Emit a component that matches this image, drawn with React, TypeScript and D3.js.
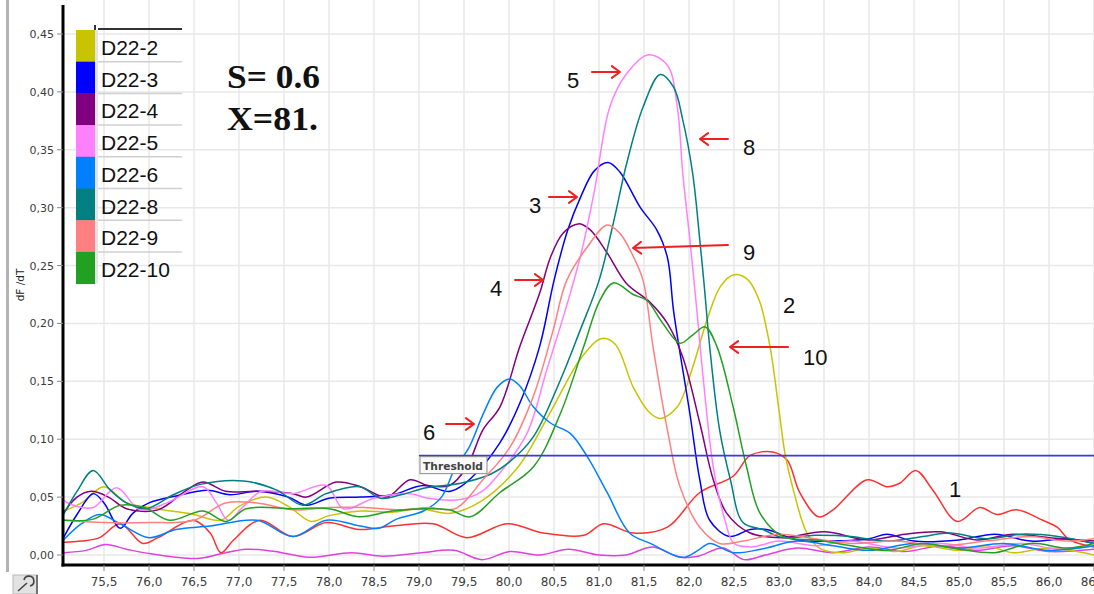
import React from "react";
import * as d3 from "d3";

type P = [number, number];

// ---------- axis ticks ----------
const X_TICKS = [75.5, 76, 76.5, 77, 77.5, 78, 78.5, 79, 79.5, 80, 80.5, 81, 81.5, 82, 82.5, 83, 83.5, 84, 84.5, 85, 85.5, 86, 86.5];
const Y_TICKS = [0, 0.05, 0.1, 0.15, 0.2, 0.25, 0.3, 0.35, 0.4, 0.45];

// ---------- series (temperature, dF/dT) ----------
const D22_2: P[] = [[75.05,0.038],[75.25,0.045],[75.5,0.059],[75.75,0.045],[76.0,0.041],[76.25,0.038],[76.5,0.035],[76.8,0.03],[77.0,0.042],[77.3,0.05],[77.55,0.042],[77.8,0.029],[78.0,0.034],[78.35,0.038],[78.7,0.037],[79.0,0.04],[79.35,0.036],[79.7,0.047],[80.1,0.076],[80.45,0.122],[80.8,0.17],[81.03,0.187],[81.18,0.182],[81.38,0.145],[81.55,0.124],[81.68,0.118],[81.87,0.128],[82.04,0.162],[82.2,0.203],[82.35,0.232],[82.5,0.242],[82.65,0.238],[82.78,0.22],[82.9,0.18],[83.0,0.125],[83.07,0.086],[83.16,0.056],[83.31,0.019],[83.45,0.006],[83.7,0.002],[84.0,0.006],[84.3,0.003],[84.6,0.008],[85.0,0.004],[85.3,0.008],[85.6,0.002],[86.0,0.006],[86.5,0.0]];
const D22_3: P[] = [[75.05,0.015],[75.2,0.035],[75.38,0.053],[75.5,0.045],[75.68,0.023],[75.82,0.036],[76.0,0.045],[76.3,0.051],[76.65,0.056],[76.9,0.052],[77.2,0.055],[77.55,0.05],[77.75,0.043],[78.0,0.049],[78.35,0.05],[78.7,0.052],[79.05,0.06],[79.35,0.055],[79.6,0.068],[79.9,0.097],[80.12,0.131],[80.34,0.18],[80.5,0.237],[80.65,0.28],[80.8,0.31],[80.95,0.332],[81.1,0.339],[81.23,0.331],[81.46,0.3],[81.64,0.281],[81.76,0.257],[81.83,0.21],[82.01,0.122],[82.12,0.065],[82.23,0.03],[82.45,0.016],[82.68,0.022],[82.86,0.022],[83.2,0.013],[83.5,0.012],[84.0,0.014],[84.2,0.018],[84.5,0.012],[85.0,0.013],[85.4,0.018],[85.8,0.012],[86.2,0.014],[86.5,0.01]];
const D22_4: P[] = [[75.05,0.036],[75.2,0.05],[75.36,0.055],[75.55,0.05],[75.75,0.04],[76.1,0.039],[76.4,0.055],[76.6,0.063],[76.85,0.055],[77.2,0.055],[77.6,0.053],[77.75,0.05],[78.08,0.063],[78.35,0.059],[78.64,0.05],[78.9,0.065],[79.1,0.06],[79.34,0.06],[79.53,0.076],[79.71,0.108],[79.9,0.128],[80.12,0.18],[80.34,0.226],[80.46,0.257],[80.6,0.278],[80.77,0.286],[80.9,0.281],[81.09,0.261],[81.3,0.235],[81.57,0.218],[81.76,0.2],[81.93,0.171],[82.12,0.114],[82.27,0.065],[82.42,0.036],[82.68,0.019],[83.04,0.015],[83.5,0.02],[84.0,0.013],[84.4,0.018],[84.8,0.02],[85.2,0.013],[85.6,0.018],[86.0,0.015],[86.5,0.012]];
const D22_5: P[] = [[75.05,0.047],[75.2,0.042],[75.38,0.041],[75.64,0.058],[75.9,0.039],[76.2,0.045],[76.6,0.059],[76.75,0.045],[76.88,0.03],[77.05,0.042],[77.25,0.055],[77.6,0.053],[77.97,0.06],[78.16,0.04],[78.5,0.049],[78.9,0.053],[79.1,0.049],[79.46,0.048],[79.7,0.055],[79.9,0.071],[80.2,0.105],[80.42,0.16],[80.62,0.21],[80.8,0.26],[80.95,0.315],[81.12,0.387],[81.3,0.415],[81.55,0.432],[81.76,0.423],[81.87,0.387],[81.93,0.33],[82.01,0.272],[82.09,0.209],[82.16,0.151],[82.27,0.076],[82.4,0.03],[82.5,0.01],[82.7,0.007],[83.0,0.012],[83.4,0.008],[83.8,0.012],[84.3,0.006],[84.8,0.01],[85.2,0.006],[85.7,0.01],[86.1,0.005],[86.5,0.008]];
const D22_6: P[] = [[75.05,0.013],[75.25,0.027],[75.45,0.035],[75.68,0.027],[76.0,0.015],[76.3,0.022],[76.68,0.025],[77.2,0.03],[77.6,0.016],[77.97,0.03],[78.35,0.025],[78.55,0.023],[78.75,0.031],[79.05,0.038],[79.25,0.05],[79.4,0.075],[79.55,0.092],[79.72,0.123],[79.87,0.145],[80.01,0.152],[80.12,0.146],[80.27,0.128],[80.46,0.114],[80.68,0.105],[80.87,0.085],[81.09,0.054],[81.34,0.019],[81.57,0.01],[81.93,-0.002],[82.1,0.004],[82.23,0.01],[82.49,0.002],[82.8,0.005],[83.2,0.012],[83.6,0.008],[84.0,0.004],[84.5,0.01],[85.0,0.006],[85.5,0.01],[86.0,0.004],[86.5,0.008]];
const D22_8: P[] = [[75.05,0.035],[75.2,0.055],[75.38,0.073],[75.57,0.056],[75.75,0.045],[75.97,0.04],[76.27,0.052],[76.57,0.061],[77.05,0.064],[77.42,0.056],[77.71,0.043],[77.97,0.053],[78.34,0.059],[78.57,0.049],[78.8,0.052],[79.08,0.058],[79.46,0.062],[79.8,0.07],[80.0,0.08],[80.27,0.102],[80.57,0.151],[80.79,0.194],[81.0,0.237],[81.16,0.287],[81.31,0.339],[81.49,0.387],[81.68,0.415],[81.83,0.404],[81.93,0.376],[82.04,0.33],[82.12,0.272],[82.17,0.232],[82.23,0.18],[82.34,0.108],[82.46,0.065],[82.6,0.028],[82.82,0.022],[83.04,0.015],[83.4,0.017],[83.8,0.016],[84.2,0.012],[84.6,0.016],[84.9,0.019],[85.3,0.014],[85.7,0.018],[86.1,0.016],[86.5,0.01]];
const D22_9: P[] = [[75.05,0.03],[75.5,0.028],[76.0,0.028],[76.5,0.03],[76.85,0.045],[77.2,0.045],[77.6,0.039],[78.0,0.041],[78.4,0.041],[78.8,0.039],[79.1,0.041],[79.4,0.04],[79.71,0.065],[80.01,0.093],[80.27,0.137],[80.49,0.194],[80.64,0.237],[80.87,0.266],[81.09,0.285],[81.23,0.278],[81.38,0.258],[81.49,0.237],[81.6,0.18],[81.76,0.108],[81.9,0.059],[82.12,0.024],[82.34,0.01],[82.6,0.012],[83.0,0.018],[83.4,0.014],[83.8,0.01],[84.3,0.012],[84.8,0.008],[85.3,0.012],[85.8,0.016],[86.2,0.012],[86.5,0.014]];
const D22_10: P[] = [[75.05,0.03],[75.38,0.031],[75.68,0.043],[75.95,0.041],[76.23,0.03],[76.6,0.038],[76.86,0.029],[77.08,0.04],[77.6,0.04],[78.0,0.04],[78.34,0.033],[78.7,0.038],[79.08,0.04],[79.34,0.039],[79.57,0.033],[79.9,0.054],[80.27,0.076],[80.57,0.122],[80.83,0.18],[81.01,0.22],[81.16,0.235],[81.38,0.225],[81.53,0.22],[81.71,0.2],[81.9,0.183],[82.04,0.19],[82.18,0.197],[82.31,0.18],[82.49,0.128],[82.64,0.076],[82.79,0.036],[83.04,0.016],[83.42,0.013],[83.8,0.008],[84.2,0.004],[84.6,0.01],[85.0,0.005],[85.4,0.002],[85.8,0.01],[86.2,0.006],[86.5,0.01]];
const SAMPLE_1: P[] = [[75.05,0.011],[75.25,0.012],[75.45,0.015],[75.68,0.027],[75.93,0.01],[76.1,0.015],[76.49,0.03],[76.68,0.019],[76.8,0.002],[76.94,0.013],[77.23,0.03],[77.6,0.016],[77.97,0.028],[78.34,0.022],[78.71,0.025],[79.16,0.027],[79.53,0.015],[79.98,0.027],[80.38,0.019],[80.83,0.017],[81.05,0.027],[81.38,0.019],[81.76,0.024],[82.12,0.054],[82.49,0.068],[82.68,0.086],[82.93,0.089],[83.09,0.082],[83.23,0.054],[83.44,0.033],[83.6,0.039],[83.98,0.065],[84.2,0.059],[84.34,0.062],[84.52,0.073],[84.71,0.056],[84.98,0.029],[85.23,0.041],[85.42,0.035],[85.64,0.039],[85.93,0.03],[86.09,0.024],[86.23,0.013],[86.5,0.007]];
const BLANK: P[] = [[75.05,0.002],[75.3,0.004],[75.52,0.009],[75.75,0.005],[76.02,0.001],[76.53,-0.003],[76.8,0.001],[77.08,0.005],[77.4,0.003],[77.78,-0.002],[78.25,0.002],[78.6,-0.001],[79.03,0.002],[79.39,0.004],[79.7,-0.004],[80.01,0.003],[80.34,0.0],[80.66,0.005],[81.0,0.0],[81.3,0.0],[81.6,0.007],[81.9,-0.002],[82.1,-0.001],[82.38,0.006],[82.61,-0.004],[82.85,0.0],[83.2,0.006],[83.6,0.002],[84.0,0.007],[84.4,0.003],[84.8,0.008],[85.2,0.004],[85.6,0.008],[86.0,0.003],[86.5,0.005]];

const LEGEND_NAMES = ["D22-2", "D22-3", "D22-4", "D22-5", "D22-6", "D22-8", "D22-9", "D22-10"];
const LEGEND_COLORS = ["#c8c400", "#0000ff", "#800080", "#ff80ff", "#0080ff", "#008080", "#ff8080", "#22a022"];
const LEGEND_DATA = [D22_2, D22_3, D22_4, D22_5, D22_6, D22_8, D22_9, D22_10];

const THRESHOLD = 0.0858;
const THRESHOLD_START = 79.0;

// annotations: label, text anchor (T, v), optional arrow from->to
const ANNOT_LABELS = ["5", "8", "3", "9", "4", "2", "10", "6", "1"];
const ANNOT_TEXT: P[] = [[80.644,0.4034],[82.6,0.3455],[80.222,0.2954],[82.6,0.2548],[79.789,0.2237],[83.044,0.209],[83.267,0.1641],[79.044,0.0993],[84.889,0.0501]];
const ANNOT_ARROWS: ([P, P] | null)[] = [
  [[80.922,0.4172],[81.233,0.4172]],
  [[82.433,0.3593],[82.122,0.3593]],
  [[80.444,0.3092],[80.756,0.3092]],
  [[82.433,0.2677],[81.378,0.2652]],
  [[80.067,0.2375],[80.378,0.2375]],
  null,
  [[83.1,0.1797],[82.456,0.1797]],
  [[79.3,0.1131],[79.611,0.1131]],
  null,
];

const W = 1094;
const H = 594;
const PLOT_L = 63;
const PLOT_T = 5;
const PLOT_B = 565;

export default function App() {
  const x = d3.scaleLinear().domain([75.5, 86]).range([104, 1049]);
  const y = d3.scaleLinear().domain([0, 0.45]).range([555, 34]);
  const line = d3
    .line<P>()
    .x((d) => x(d[0]))
    .y((d) => y(d[1]))
    .curve(d3.curveCatmullRom.alpha(0.5));
  const fmt = (v: number, n: number) => v.toFixed(n).replace(".", ",");

  const series = [
    { color: "#e040e0", data: BLANK },
    { color: "#ff3030", data: SAMPLE_1 },
    ...LEGEND_DATA.map((d, i) => ({ color: LEGEND_COLORS[i], data: d })),
  ];

  const rowH = 31.7;
  const legTop = 30;

  return (
    <svg
      width={W}
      height={H}
      style={{ position: "fixed", left: 0, top: 0, display: "block", background: "#fff" }}
      fontFamily="'DejaVu Sans', sans-serif"
    >
      <defs>
        <clipPath id="plotclip">
          <rect x={PLOT_L + 1} y={PLOT_T} width={W - PLOT_L - 1} height={PLOT_B - PLOT_T - 1} />
        </clipPath>
      </defs>
      <rect x={0} y={0} width={W} height={H} fill="#fff" />

      {/* window border at left */}
      <rect x={6} y={0} width={3} height={572} fill="#b4b4b4" />

      {/* grid */}
      {X_TICKS.map((t) => (
        <line key={"gx" + t} x1={x(t)} x2={x(t)} y1={0} y2={PLOT_B} stroke="#e8e8e8" strokeWidth={1.5} />
      ))}
      {Y_TICKS.map((t) => (
        <line key={"gy" + t} x1={PLOT_L} x2={W} y1={y(t)} y2={y(t)} stroke="#e8e8e8" strokeWidth={1.5} />
      ))}

      {/* series */}
      <g clipPath="url(#plotclip)" fill="none">
        {series.map((s, i) => (
          <path key={i} d={line(s.data) || ""} stroke={s.color} strokeWidth={1.5} strokeLinejoin="round" />
        ))}
        <line x1={x(THRESHOLD_START)} x2={W} y1={y(THRESHOLD)} y2={y(THRESHOLD)} stroke="#3a3ae0" strokeWidth={1.6} />
      </g>

      {/* threshold label */}
      <g>
        <rect x={x(THRESHOLD_START) + 1} y={y(THRESHOLD) + 1} width={67} height={17} fill="#fafafa" stroke="#8c8c8c" strokeWidth={1} />
        <text x={x(THRESHOLD_START) + 4} y={y(THRESHOLD) + 14} fontSize={11} fontWeight="bold" fill="#444" textLength={60} lengthAdjust="spacingAndGlyphs">
          Threshold
        </text>
      </g>

      {/* axes */}
      <line x1={PLOT_L} x2={PLOT_L} y1={PLOT_T} y2={PLOT_B + 1.5} stroke="#000" strokeWidth={3} />
      <line x1={PLOT_L - 1.5} x2={W} y1={PLOT_B} y2={PLOT_B} stroke="#000" strokeWidth={3} />
      {Y_TICKS.map((t) => (
        <g key={"yt" + t}>
          <line x1={57} x2={PLOT_L} y1={y(t)} y2={y(t)} stroke="#888" strokeWidth={1} />
          <text x={54} y={y(t) + 4} fontSize={11} fill="#3c3c3c" textAnchor="end">
            {fmt(t, 2)}
          </text>
        </g>
      ))}
      {X_TICKS.map((t) => (
        <g key={"xt" + t}>
          <line x1={x(t)} x2={x(t)} y1={PLOT_B} y2={PLOT_B + 6} stroke="#888" strokeWidth={1} />
          <text x={x(t)} y={586} fontSize={12} fill="#3c3c3c" textAnchor="middle">
            {fmt(t, 1)}
          </text>
        </g>
      ))}
      <text transform="translate(24,285) rotate(-90)" fontSize={10.5} fill="#222" textAnchor="middle">
        dF /dT
      </text>

      {/* bottom-left tool icon */}
      <g>
        <rect x={13} y={575} width={24} height={19} fill="#e2e2e2" stroke="#b8b8b8" />
        <line x1={37} x2={37} y1={575} y2={594} stroke="#555" strokeWidth={1.5} />
        <path d="M18,591 L27,583 M24,580 a5,5 0 1 1 6,6" fill="none" stroke="#444" strokeWidth={1.6} />
      </g>

      {/* legend */}
      <g>
        <line x1={98} x2={182} y1={29} y2={29} stroke="#333" strokeWidth={2} />
        <line x1={95} x2={95} y1={25} y2={30} stroke="#333" strokeWidth={2} />
        {LEGEND_NAMES.map((n, i) => {
          const top = legTop + i * rowH;
          return (
            <g key={n}>
              <rect x={76} y={top} width={19} height={rowH + 0.5} fill={LEGEND_COLORS[i]} />
              <rect x={95} y={top} width={3} height={rowH} fill="#e4e4e4" />
              {i < LEGEND_NAMES.length - 1 && (
                <line x1={98} x2={182} y1={top + rowH} y2={top + rowH} stroke="#d0d0d0" strokeWidth={1.5} />
              )}
              <text x={101} y={top + 25} fontSize={21} fill="#111" fontFamily="'Liberation Sans', Arial, sans-serif">
                {n}
              </text>
            </g>
          );
        })}
      </g>

      {/* S / X note */}
      <g fontFamily="'Liberation Serif', 'Times New Roman', serif" fontWeight="bold" fontSize={34} fill="#111">
        <text x={227} y={88} textLength={93} lengthAdjust="spacingAndGlyphs">S= 0.6</text>
        <text x={227} y={130} textLength={91} lengthAdjust="spacingAndGlyphs">X=81.</text>
      </g>

      {/* annotations */}
      <g>
        {ANNOT_LABELS.map((lab, i) => {
          const [tx, tv] = ANNOT_TEXT[i];
          const arr = ANNOT_ARROWS[i];
          let arrow = null;
          if (arr) {
            const x1 = x(arr[0][0]), y1 = y(arr[0][1]);
            const x2 = x(arr[1][0]), y2 = y(arr[1][1]);
            const ang = Math.atan2(y2 - y1, x2 - x1);
            const L = 10, a = Math.PI / 5;
            const hx1 = x2 - L * Math.cos(ang - a), hy1 = y2 - L * Math.sin(ang - a);
            const hx2 = x2 - L * Math.cos(ang + a), hy2 = y2 - L * Math.sin(ang + a);
            arrow = (
              <path
                d={`M${x1},${y1}L${x2},${y2}M${hx1},${hy1}L${x2},${y2}L${hx2},${hy2}`}
                fill="none"
                stroke="#f02020"
                strokeWidth={2}
                strokeLinecap="round"
                strokeLinejoin="round"
              />
            );
          }
          return (
            <g key={"an" + i}>
              {arrow}
              <text x={x(tx)} y={y(tv)} fontSize={22} fill="#111" fontFamily="'Liberation Sans', Arial, sans-serif">
                {lab}
              </text>
            </g>
          );
        })}
      </g>
    </svg>
  );
}
